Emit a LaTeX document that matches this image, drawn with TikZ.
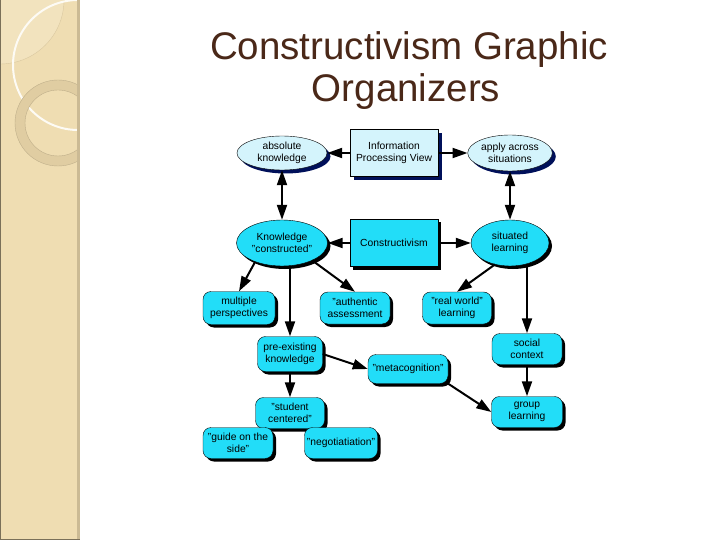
\documentclass[tikz,border=0pt]{standalone}
\usepackage{fontspec}
\setmainfont{Liberation Sans}
\usetikzlibrary{shapes.geometric, positioning, arrows.meta, shadows}

\definecolor{paleblue}{HTML}{D4F4FC}
\definecolor{aqua}{HTML}{22DDF8}
\definecolor{navy}{HTML}{00105A}
\definecolor{titlebrown}{HTML}{4A2818}
\definecolor{bartan}{HTML}{EFDDB2}
\definecolor{barlight}{HTML}{F2E3BE}
\definecolor{baredge}{HTML}{CBBA94}
\definecolor{ringtan}{HTML}{E0CDA2}

\tikzset{
  concept/.style={draw=black, thin, align=center, inner sep=1pt,
    font=\fontsize{10.3}{11.5}\selectfont},
  oval/.style={concept, ellipse},
  box/.style={concept, rectangle, minimum width=88pt, minimum height=47pt},
  bubble/.style={concept, rounded corners=8pt, minimum width=70pt, minimum height=31pt},
  pale/.style={fill=paleblue, drop shadow={shadow xshift=3.5pt, shadow yshift=-3.5pt, fill=navy, opacity=1}},
  bright/.style={fill=aqua, drop shadow={shadow xshift=3pt, shadow yshift=-3pt, fill=black, opacity=1}},
  link/.style={line width=2pt},
}

\begin{document}
\begin{tikzpicture}[x=1pt, y=-1pt, on grid, >={Triangle[length=15pt,width=10pt]}]
    \useasboundingbox (0,0) rectangle (720,540);

    % side bar
    \fill[bartan] (0,0) rectangle (78,540);
    \begin{scope}
        \clip (0,0) rectangle (78,540);
        \fill[barlight] (0,0) circle[radius=64pt];
        \draw[baredge!60!bartan, thin] (0,0) circle[radius=64pt];
        \draw[white!85!barlight, line width=2pt] (78,65) circle[radius=65pt];
        \draw[ringtan, line width=10pt] (58,123) circle[radius=38pt];
        \draw[ringtan!85!black, thin] (58,123) circle[radius=43pt] (58,123) circle[radius=33pt];
    \end{scope}
    \fill[baredge] (77,0) rectangle (80,540);
    \draw[baredge!60!black] (0.5,0) -- (0.5,539.5) -- (80,539.5);

    % title
    \node[anchor=base, text=titlebrown, font=\fontsize{38.5}{42}\selectfont] (titletop) at (409,60) {Constructivism Graphic};
    \node[anchor=base, text=titlebrown, font=\fontsize{38.5}{42}\selectfont] (titlebottom) at (406,102) {Organizers};

    % top row
    \node[oval, pale, minimum width=90pt, minimum height=34pt] (absolute) at (282,153) {absolute\\knowledge};
    \node[box, pale, right=112pt of absolute] (info) {Information\\Processing View};
    \node[oval, pale, minimum width=80pt, minimum height=36pt, right=116pt of info] (apply) {apply across\\situations};

    % second row
    \node[oval, bright, minimum width=91pt, minimum height=46pt, below=90pt of absolute] (constructed) {Knowledge\\"constructed"};
    \node[box, bright, right=112pt of constructed] (constr) {Constructivism};
    \node[oval, bright, minimum width=78pt, minimum height=46pt, right=116pt of constr] (situated) {situated\\learning};

    % third row
    \node[bubble, bright, minimum width=72pt, minimum height=33pt, below left=65pt and 43pt of constructed] (multi) {multiple\\perspectives};
    \node[bubble, bright, minimum height=32pt, right=116pt of multi] (authentic) {"authentic\\assessment};
    \node[bubble, bright, minimum width=69pt, minimum height=32pt, right=102pt of authentic] (realworld) {"real world"\\learning};

    % lower part
    \node[bubble, bright, minimum width=65pt, minimum height=35pt] (preexist) at (290,354) {pre-existing\\knowledge};
    \node[bubble, bright, minimum width=80pt, minimum height=29pt] (metacog) at (408,369) {"metacognition"};
    \node[bubble, bright] (social) at (527,349) {social\\context};
    \node[bubble, bright, minimum width=69pt, below=59pt of preexist] (student) {"student\\centered"};
    \node[bubble, bright] (guide) at (238,443) {"guide on the\\side"};
    \node[bubble, bright, minimum width=73pt] (negot) at (341,443) {"negotiatiation"};
    \node[bubble, bright, minimum width=71pt, below=63pt of social] (group) {group\\learning};

    \path[link, ->]
        (info) edge (absolute)
        (info) edge (apply)
        (constr) edge (constructed)
        (constr) edge (situated)
        (constructed.215) edge (multi.north)
        (constructed.south -| preexist.north) edge (preexist.north)
        (constructed.330) edge (authentic.north)
        (situated.235) edge (realworld.north)
        (situated.south -| social.north) edge (social.north)
        (preexist.east) edge (metacog.west)
        (preexist) edge (student)
        (social) edge (group)
        (metacog.south east) edge (group.west);
    \path[link, <->]
        (absolute) edge (constructed)
        (apply) edge (situated);
\end{tikzpicture}
\end{document}
